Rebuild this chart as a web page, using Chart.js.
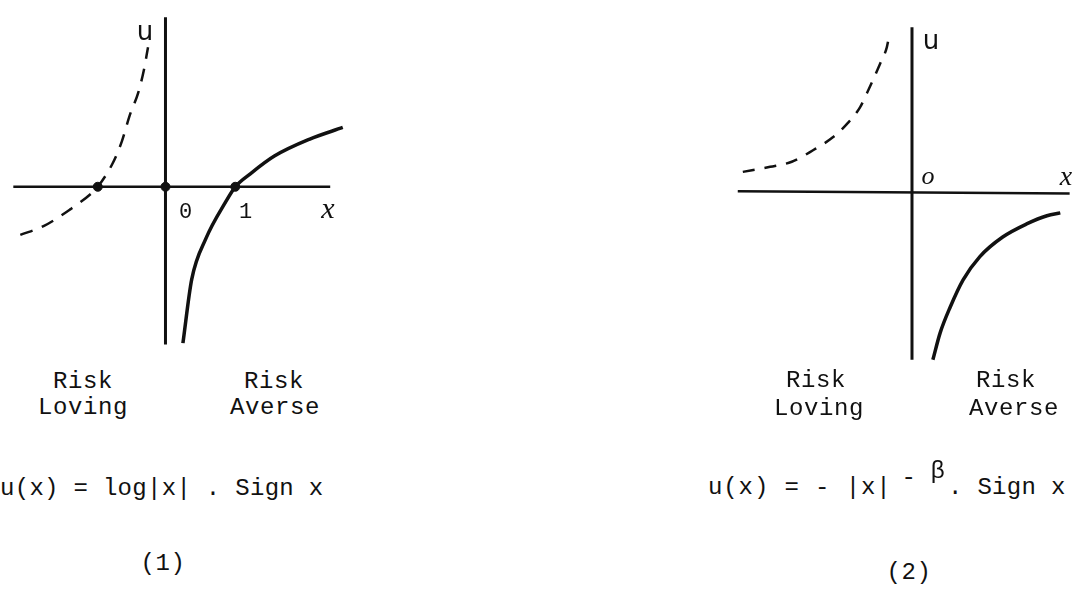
<!DOCTYPE html>
<html lang="en">
<head>
    <meta charset="UTF-8">
    <title>Utility functions</title>
    <script src="https://cdn.jsdelivr.net/npm/chart.js"></script>
    <style>
        body { margin:0; background:#fff; }
        .page { position:relative; width:1078px; height:590px; overflow:hidden; background:#fff; }
        .plot { position:absolute; }
        .t { position:absolute; transform:translate(-50%,-50%); white-space:pre; color:#111;
             font-family:"Liberation Mono","DejaVu Sans Mono",monospace; font-size:24px; letter-spacing:0.6px; }
        .lbl { position:absolute; transform:translate(-50%,-50%); color:#111; font-family:"Liberation Serif",serif; font-style:italic; }
        .f { position:absolute; white-space:pre; color:#111; font-family:"Liberation Mono","DejaVu Sans Mono",monospace; font-size:24px; letter-spacing:0.3px; }
    </style>
</head>
<body>
<div class="page">
    <div class="plot" style="left:0;top:0;width:360px;height:360px;"><canvas id="fig1"></canvas></div>
    <div class="plot" style="left:720px;top:0;width:358px;height:370px;"><canvas id="fig2"></canvas></div>

    <!-- figure 1 labels -->
    <span class="lbl" style="left:145px;top:31px;font-size:26px;font-style:normal;font-family:'DejaVu Sans',sans-serif;">u</span>
    <span class="t" style="left:186px;top:212px;font-size:22px;">0</span>
    <span class="t" style="left:246px;top:212px;font-size:22px;">1</span>
    <span class="lbl" style="left:328px;top:208px;font-size:30px;">x</span>
    <span class="t" style="left:83px;top:381px;">Risk</span>
    <span class="t" style="left:83px;top:407px;">Loving</span>
    <span class="t" style="left:274px;top:381px;">Risk</span>
    <span class="t" style="left:275px;top:407px;">Averse</span>
    <span class="f" style="left:0;top:475px;">u(x) = log|x| . Sign x</span>
    <span class="t" style="left:163px;top:563px;">(1)</span>

    <!-- figure 2 labels -->
    <span class="lbl" style="left:931px;top:40px;font-size:26px;font-style:normal;font-family:'DejaVu Sans',sans-serif;">u</span>
    <span class="lbl" style="left:928px;top:176px;font-size:26px;">o</span>
    <span class="lbl" style="left:1066px;top:176px;font-size:28px;">x</span>
    <span class="t" style="left:816px;top:380px;">Risk</span>
    <span class="t" style="left:819px;top:408px;">Loving</span>
    <span class="t" style="left:1006px;top:380px;">Risk</span>
    <span class="t" style="left:1014px;top:408px;">Averse</span>
    <span class="f" style="left:708px;top:474px;letter-spacing:0.9px;">u(x) = - |x|</span>
    <span class="t" style="left:909px;top:477px;font-size:24px;">-</span>
    <span class="t" style="left:938px;top:471px;font-size:24px;">β</span>
    <span class="f" style="left:948px;top:474px;">. Sign x</span>
    <span class="t" style="left:909px;top:572px;">(2)</span>
</div>
<script>
    // ---- figure 1 : u(x) = log|x| . sign x  (units: 1 = distance from 0 to 1 on the x axis)
    const fig1AxisH = [[-2.18, 0], [2.36, 0]];
    const fig1AxisV = [[0, 2.43], [0, -2.26]];
    const fig1SolidX = [0.25, 0.375, 0.58, 0.86, 1.0, 1.22, 1.56, 2.06, 2.54];
    const fig1SolidY = [-2.24, -1.33, -0.74, -0.22, 0, 0.19, 0.44, 0.68, 0.85];
    const fig1DashX = [-2.08, -1.74, -1.36, -1.08, -0.97, -0.76, -0.625, -0.51, -0.39, -0.31, -0.25];
    const fig1DashY = [-0.69, -0.56, -0.32, -0.11, 0, 0.33, 0.65, 1.03, 1.35, 1.67, 2.0];
    const fig1DotsX = [-0.97, 0, 1.0];
    const fig1DotsY = [0, 0, 0];

    // ---- figure 2 : u(x) = -|x|^-b . sign x
    const fig2AxisH = [[-2.42, 0.01], [2.19, -0.02]];
    const fig2AxisV = [[0, 2.29], [0, -2.33]];
    const fig2SolidX = [0.29, 0.39, 0.53, 0.71, 0.94, 1.26, 1.60, 1.875, 2.06];
    const fig2SolidY = [-2.33, -1.96, -1.60, -1.22, -0.90, -0.625, -0.44, -0.33, -0.29];
    const fig2DashX = [-2.35, -1.97, -1.67, -1.375, -1.10, -0.89, -0.72, -0.625, -0.54, -0.44, -0.35, -0.31];
    const fig2DashY = [0.28, 0.35, 0.42, 0.58, 0.76, 0.96, 1.18, 1.375, 1.56, 1.79, 2.01, 2.21];

    const ink = '#111';
    const pts = (xs, ys) => xs.map((x, i) => ({ x: x, y: ys[i] }));
    const pairs = p => p.map(a => ({ x: a[0], y: a[1] }));

    function line(data, width, dash) {
        return { data: data, showLine: true, borderColor: ink, borderWidth: width, borderDash: dash || [],
                 pointRadius: 0, tension: 0.4, cubicInterpolationMode: 'monotone', fill: false, clip: false };
    }

    function makeChart(id, datasets, xr, yr) {
        new Chart(document.getElementById(id), {
            type: 'scatter',
            data: { datasets: datasets },
            options: {
                responsive: true, maintainAspectRatio: false, animation: false,
                layout: { padding: 0 },
                plugins: { legend: { display: false }, tooltip: { enabled: false } },
                scales: {
                    x: { type: 'linear', min: xr[0], max: xr[1], display: false },
                    y: { type: 'linear', min: yr[0], max: yr[1], display: false }
                }
            }
        });
    }

    makeChart('fig1', [
        line(pairs(fig1AxisH), 2.5),
        line(pairs(fig1AxisV), 3),
        line(pts(fig1SolidX, fig1SolidY), 3.5),
        line(pts(fig1DashX, fig1DashY), 2.5, [13, 10]),
        { data: pts(fig1DotsX, fig1DotsY), pointRadius: 4.5, pointBackgroundColor: ink, pointBorderColor: ink, showLine: false, clip: false }
    ], [-2.292, 2.708], [-2.403, 2.597]);

    makeChart('fig2', [
        line(pairs(fig2AxisH), 2.5),
        line(pairs(fig2AxisV), 3),
        line(pts(fig2SolidX, fig2SolidY), 3.5),
        line(pts(fig2DashX, fig2DashY), 2.5, [12, 10])
    ], [-2.667, 2.306], [-2.472, 2.667]);
</script>
</body>
</html>
